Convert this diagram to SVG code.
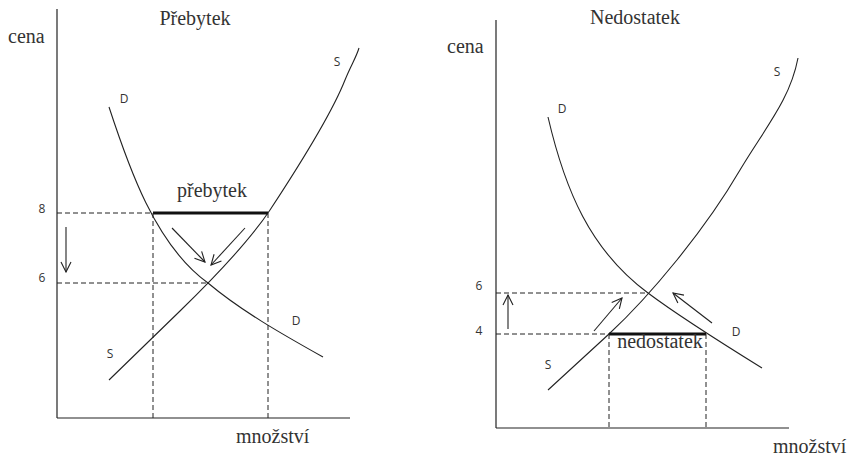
<svg xmlns="http://www.w3.org/2000/svg" width="852" height="457" viewBox="0 0 852 457">
<style>
.ax{stroke:#222;stroke-width:1.2;fill:none}
.cv{stroke:#222;stroke-width:1.1;fill:none}
.da{stroke:#222;stroke-width:1;stroke-dasharray:5,3;fill:none}
.th{stroke:#111;stroke-width:3;fill:none}
.ar{stroke:#222;stroke-width:1.1;fill:none;marker-end:url(#ah)}
.ser{font-family:"Liberation Serif","Times New Roman",serif;font-size:20px;fill:#333}
.san{font-family:"Open Sans","Liberation Sans",sans-serif;font-size:12px;fill:#333}
</style>
<defs>
<marker id="ah" viewBox="0 0 12 12" refX="11" refY="6" markerWidth="12" markerHeight="12" markerUnits="userSpaceOnUse" orient="auto">
<polyline points="1,1 11,6 1,11" fill="none" stroke="#222" stroke-width="1.1"/>
</marker>
</defs>
<rect width="852" height="457" fill="#fff"/>
<g id="left-panel">
<g id="left-axes">
<line class="ax" x1="57" y1="9" x2="57" y2="418"/>
<line class="ax" x1="57" y1="418" x2="350" y2="418"/>
<text class="ser" x="195" y="25" text-anchor="middle">Přebytek</text>
<text class="ser" x="8" y="43">cena</text>
<text class="ser" x="236" y="443">množství</text>
</g>
<g id="left-D">
<path class="cv" d="M109,107 C128,165 155,245 208,283 C240,310 280,333 323,357"/>
<text class="san" x="124" y="103" text-anchor="middle">D</text>
<text class="san" x="296" y="325" text-anchor="middle">D</text>
</g>
<g id="left-S">
<path class="cv" d="M109,380 L180,311 C215,277 250,240 270,210 C295,172 330,118 345,80 C351,65 356,58 359,48"/>
<text class="san" x="110" y="358" text-anchor="middle">S</text>
<text class="san" x="337" y="66" text-anchor="middle">S</text>
</g>
<g id="left-surplus">
<line class="th" x1="153" y1="213" x2="268" y2="213"/>
<text class="ser" x="212" y="197" text-anchor="middle">přebytek</text>
</g>
<g id="left-ticks">
<text class="san" x="42" y="213" text-anchor="middle">8</text>
<text class="san" x="42" y="282" text-anchor="middle">6</text>
</g>
</g>
<g id="right-panel">
<g id="right-axes">
<line class="ax" x1="496" y1="20" x2="496" y2="428"/>
<line class="ax" x1="496" y1="428" x2="789" y2="428"/>
<text class="ser" x="635" y="24" text-anchor="middle">Nedostatek</text>
<text class="ser" x="447" y="53">cena</text>
<text class="ser" x="773" y="453">množství</text>
</g>
<g id="right-D">
<path class="cv" d="M548,117 C565,190 590,250 648,293 C680,317 720,342 762,368"/>
<text class="san" x="562" y="113" text-anchor="middle">D</text>
<text class="san" x="736" y="336" text-anchor="middle">D</text>
</g>
<g id="right-S">
<path class="cv" d="M548,390 L609,334 C650,296 705,230 740,170 C765,128 790,100 798,58"/>
<text class="san" x="548" y="369" text-anchor="middle">S</text>
<text class="san" x="777" y="76" text-anchor="middle">S</text>
</g>
<g id="right-shortage">
<line class="th" x1="609" y1="334" x2="706" y2="334"/>
<text class="ser" x="660" y="348" text-anchor="middle">nedostatek</text>
</g>
<g id="right-ticks">
<text class="san" x="479" y="290" text-anchor="middle">6</text>
<text class="san" x="479" y="335" text-anchor="middle">4</text>
</g>
</g>
<g id="connectors">
<line class="da" x1="57" y1="213" x2="153" y2="213"/>
<line class="da" x1="57" y1="283" x2="208" y2="283"/>
<line class="da" x1="153" y1="213" x2="153" y2="418"/>
<line class="da" x1="268" y1="213" x2="268" y2="418"/>
<line class="ar" x1="66" y1="227" x2="66" y2="272"/>
<line class="ar" x1="172" y1="228" x2="205" y2="262"/>
<line class="ar" x1="245" y1="228" x2="211" y2="265"/>
<line class="da" x1="496" y1="293" x2="648" y2="293"/>
<line class="da" x1="496" y1="334" x2="609" y2="334"/>
<line class="da" x1="609" y1="334" x2="609" y2="428"/>
<line class="da" x1="706" y1="334" x2="706" y2="428"/>
<line class="ar" x1="508" y1="329" x2="508" y2="295"/>
<line class="ar" x1="594" y1="331" x2="622" y2="298"/>
<line class="ar" x1="712" y1="323" x2="673" y2="293"/>
</g>
</svg>
